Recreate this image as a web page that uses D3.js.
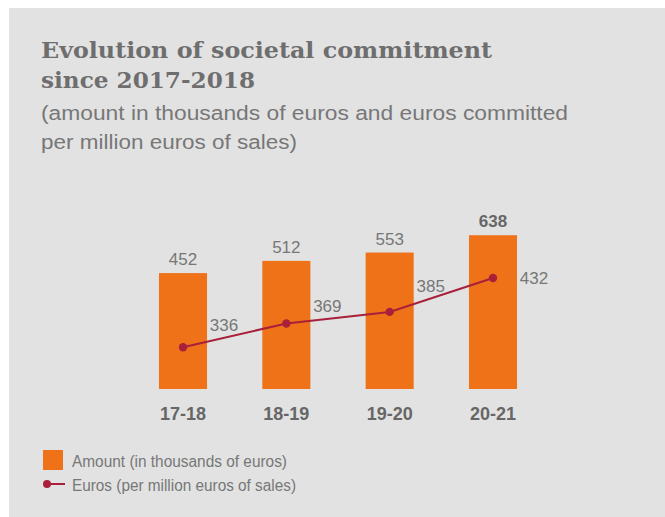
<!DOCTYPE html>
<html>
<head>
<meta charset="utf-8">
<script src="https://cdn.jsdelivr.net/npm/d3@7/dist/d3.min.js"></script>
<style>
  html, body { margin: 0; padding: 0; background: #ffffff; }
  svg { display: block; }
</style>
</head>
<body>
<svg id="chart" width="665" height="517"></svg>
<script>
// Fiscal years and the two series shown for each
const categories = ["17-18", "18-19", "19-20", "20-21"];
const amounts = [452, 512, 553, 638];          // thousands of euros
const perMillion = [336, 369, 385, 432];       // euros per million euros of sales
const highlightCategory = "20-21";

const titleLines = ["Evolution of societal commitment", "since 2017-2018"];
const subtitleLines = ["(amount in thousands of euros and euros committed", "per million euros of sales)"];
const legendLabels = ["Amount (in thousands of euros)", "Euros (per million euros of sales)"];

const ORANGE = "#ef7219";
const CRIMSON = "#a8203a";
const GREY_TEXT = "#6e6e6e";
const LIGHT_TEXT = "#777777";

const svg = d3.select("#chart");

// panel background
svg.append("rect")
  .attr("x", 9).attr("y", 8)
  .attr("width", 656).attr("height", 509)
  .attr("fill", "#e2e2e2");

// title
const title = svg.append("g").attr("font-family", "'DejaVu Serif', serif")
  .attr("font-weight", "bold").attr("fill", GREY_TEXT);
title.selectAll("text").data(titleLines).join("text")
  .attr("x", 41)
  .attr("y", (d, i) => 58 + i * 30)
  .attr("font-size", 23)
  .attr("textLength", (d, i) => i === 0 ? 451 : 214)
  .attr("lengthAdjust", "spacingAndGlyphs")
  .text(d => d);

// subtitle
const subtitle = svg.append("g").attr("font-family", "'Liberation Sans', Arial, sans-serif")
  .attr("fill", LIGHT_TEXT);
subtitle.selectAll("text").data(subtitleLines).join("text")
  .attr("x", 41)
  .attr("y", (d, i) => 120 + i * 29)
  .attr("font-size", 20)
  .attr("textLength", (d, i) => i === 0 ? 527 : 256)
  .attr("lengthAdjust", "spacingAndGlyphs")
  .text(d => d);

// scales
const x = d3.scaleBand()
  .domain(categories)
  .range([131.35, 544.65])
  .paddingInner(0.535)
  .paddingOuter(0.2675);

const baseY = 389;
const yBar = d3.scaleLinear().domain([-117, 700]).range([baseY, 222.6]);
const yLine = d3.scaleLinear().domain([278, 450]).range([baseY, 265.06]);

const barData = categories.map((c, i) => ({ c, v: amounts[i] }));
const lineData = categories.map((c, i) => ({ c, v: perMillion[i] }));

// bars
svg.append("g").selectAll("rect").data(barData).join("rect")
  .attr("x", d => x(d.c))
  .attr("y", d => yBar(d.v))
  .attr("width", x.bandwidth())
  .attr("height", d => yBar(-117) - yBar(d.v))
  .attr("fill", ORANGE);

// bar value labels
svg.append("g").attr("font-family", "'Liberation Sans', Arial, sans-serif")
  .attr("text-anchor", "middle")
  .selectAll("text").data(barData).join("text")
  .attr("x", d => x(d.c) + x.bandwidth() / 2)
  .attr("y", d => yBar(d.v) - 8)
  .attr("font-size", 17)
  .attr("font-weight", d => d.c === highlightCategory ? "bold" : "normal")
  .attr("fill", d => d.c === highlightCategory ? "#666666" : LIGHT_TEXT)
  .text(d => d.v);

// category axis
const xAxis = svg.append("g")
  .attr("transform", `translate(0,${baseY})`)
  .call(d3.axisBottom(x).tickSize(0).tickPadding(18));
xAxis.select(".domain").remove();
xAxis.selectAll("text")
  .attr("font-family", "'Liberation Sans', Arial, sans-serif")
  .attr("font-size", 18)
  .attr("font-weight", "bold")
  .attr("fill", "#666666")
  .attr("dy", "0.71em")
  .attr("y", 18);

// line series
const cx = d => x(d.c) + x.bandwidth() / 2;
const cy = d => yLine(d.v);
svg.append("path")
  .datum(lineData)
  .attr("fill", "none")
  .attr("stroke", CRIMSON)
  .attr("stroke-width", 2)
  .attr("d", d3.line().x(cx).y(cy));

svg.append("g").selectAll("circle").data(lineData).join("circle")
  .attr("cx", cx)
  .attr("cy", cy)
  .attr("r", 4.2)
  .attr("fill", CRIMSON);

// line value labels: sit just above the segment leading to the next point,
// the final one beside its point
const labelDx = 41;
const labelY = (d, i) => {
  const next = lineData[i + 1];
  if (!next) return cy(d);
  const t = labelDx / (cx(next) - cx(d));
  return cy(d) + t * (cy(next) - cy(d)) - 12.5;
};
svg.append("g").attr("font-family", "'Liberation Sans', Arial, sans-serif")
  .attr("text-anchor", "middle")
  .attr("font-size", 17)
  .attr("fill", LIGHT_TEXT)
  .selectAll("text").data(lineData).join("text")
  .attr("x", d => cx(d) + labelDx)
  .attr("y", labelY)
  .attr("dy", "0.35em")
  .text(d => d.v);

// legend
const legend = svg.append("g").attr("font-family", "'Liberation Sans', Arial, sans-serif")
  .attr("font-size", 16).attr("fill", LIGHT_TEXT);
legend.append("rect")
  .attr("x", 43).attr("y", 450).attr("width", 20).attr("height", 20)
  .attr("fill", ORANGE);
legend.append("line")
  .attr("x1", 44).attr("x2", 65).attr("y1", 484).attr("y2", 484)
  .attr("stroke", CRIMSON).attr("stroke-width", 2);
legend.append("circle")
  .attr("cx", 47).attr("cy", 484).attr("r", 4).attr("fill", CRIMSON);
legend.selectAll("text").data(legendLabels).join("text")
  .attr("x", 72)
  .attr("y", (d, i) => 467 + i * 24)
  .attr("textLength", (d, i) => i === 0 ? 215 : 224)
  .attr("lengthAdjust", "spacingAndGlyphs")
  .text(d => d);
</script>
</body>
</html>
